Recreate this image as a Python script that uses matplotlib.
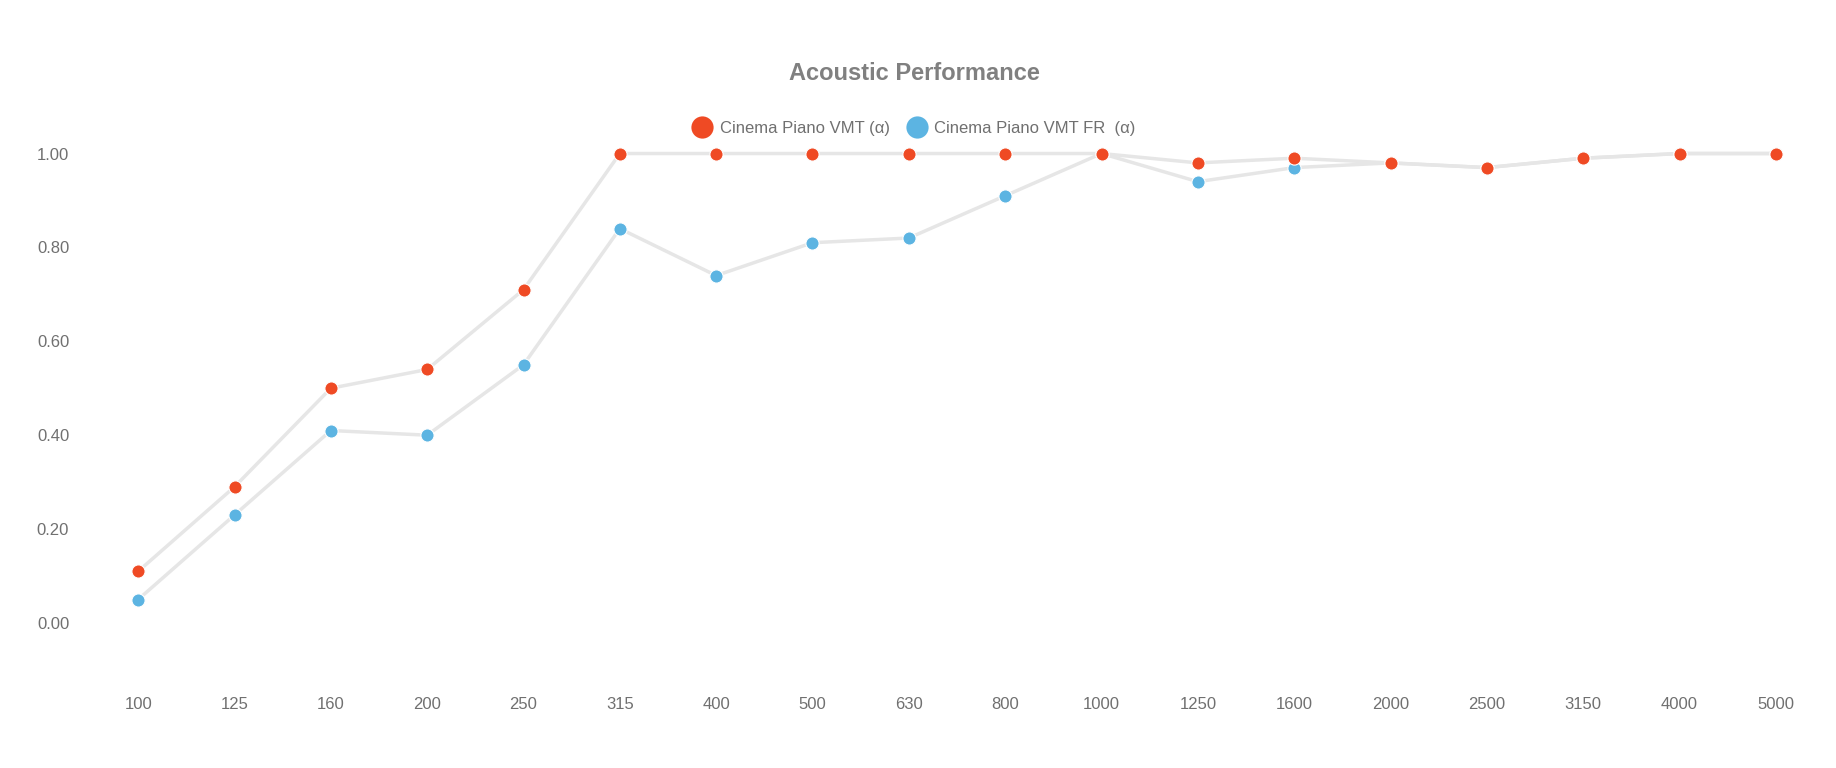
import matplotlib
matplotlib.use("Agg")
import matplotlib.pyplot as plt
from matplotlib.lines import Line2D

plt.rcParams['font.family'] = ['Liberation Sans', 'DejaVu Sans']

categories = ["100", "125", "160", "200", "250", "315", "400", "500", "630", "800",
              "1000", "1250", "1600", "2000", "2500", "3150", "4000", "5000"]
vmt = [0.11, 0.29, 0.50, 0.54, 0.71, 1.00, 1.00, 1.00, 1.00, 1.00,
       1.00, 0.98, 0.99, 0.98, 0.97, 0.99, 1.00, 1.00]
vmt_fr = [0.05, 0.23, 0.41, 0.40, 0.55, 0.84, 0.74, 0.81, 0.82, 0.91,
          1.00, 0.94, 0.97, 0.98, 0.97, 0.99, 1.00, 1.00]
series_names = ["Cinema Piano VMT (\u03b1)", "Cinema Piano VMT FR  (\u03b1)"]
yticks = [0.0, 0.2, 0.4, 0.6, 0.8, 1.0]

red = "#ef4a24"
blue = "#5cb4e2"
line_c = "#e6e6e6"
txt = "#707070"

fig = plt.figure(figsize=(18.36, 7.68), dpi=100)
ax = fig.add_axes([90/1836, 1-693.4/768, (1824-90)/1836, (693.4-83.1)/768])

x = list(range(len(categories)))
for vals, col in ((vmt_fr, blue), (vmt, red)):
    ax.plot(x, vals, color=line_c, lw=2.5, zorder=1)
for vals, col in ((vmt_fr, blue), (vmt, red)):
    ax.plot(x, vals, ls='none', marker='o', ms=9.5, mfc=col, mec='white', mew=0.8, zorder=3)

ax.set_xlim(-0.5, len(categories) - 0.5)
ax.set_ylim(-0.15, 1.15)
ax.set_xticks(x)
ax.set_xticklabels(categories)
ax.set_yticks(yticks)
ax.set_yticklabels([f"{v:.2f}" for v in yticks])
ax.tick_params(length=0, labelsize=12, colors=txt)
ax.tick_params(axis='y', pad=15)
ax.tick_params(axis='x', pad=2.6)
for s in ax.spines.values():
    s.set_visible(False)

fig.text(914/1836, 1-73/768, "Acoustic Performance", ha='center', va='center',
         fontsize=17, fontweight='bold', color="#808080")

handles = [Line2D([], [], ls='none', marker='o', ms=16, mfc=red, mec='none'),
           Line2D([], [], ls='none', marker='o', ms=16, mfc=blue, mec='none')]
leg = fig.legend(handles, series_names, loc='center', bbox_to_anchor=(914/1836, 1-128/768),
                 ncol=2, frameon=False, fontsize=12, handletextpad=0.45, columnspacing=1.0,
                 handlelength=1.2, borderpad=0)
for t in leg.get_texts():
    t.set_color(txt)

fig.savefig("out.png", dpi=100, facecolor='white')
